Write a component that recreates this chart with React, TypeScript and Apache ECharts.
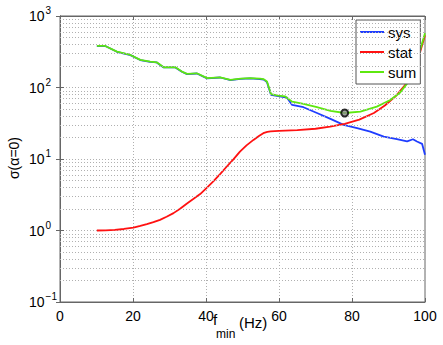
import React, { useEffect, useRef } from "react";
import * as echarts from "echarts";

const xTicks = [0, 20, 40, 60, 80, 100];
const yDecades = [0.1, 1, 10, 100, 1000];

const sumX = [10.1, 12.4, 15.6, 19.3, 22.0, 24.7, 26.5, 28.4, 31.6, 33.4, 34.8, 37.5, 40.3, 43.9, 46.7, 49.5, 52.1, 54.8, 55.8, 56.7, 57.8, 59.8, 61.7, 63.6, 66.7, 70.4, 74.1, 78.0, 82.3, 86.8, 90.5, 93.2, 95.5, 97.6, 100];
const sumY = [381, 381, 317, 285, 243, 230, 225, 192, 192, 167, 155, 158, 135, 139, 128, 133, 135, 133, 131, 121, 81, 77, 75, 63.5, 59, 53, 47, 44, 46, 54, 67, 85, 121, 218, 573];

const sysX = [10.1, 12.4, 15.6, 19.3, 22.0, 24.7, 26.5, 28.4, 31.6, 33.4, 34.8, 37.5, 40.3, 43.9, 46.7, 49.5, 52.1, 54.8, 55.8, 56.7, 57.8, 59.8, 62.2, 63.6, 66.7, 70.4, 74.1, 77.7, 81.4, 85.0, 88.7, 92.3, 95.1, 96.7, 97.8, 99.2, 100];
const sysY = [380, 380, 316, 284, 242, 229, 224, 191, 191, 166, 154, 157, 134, 138, 127, 132, 134, 131, 129, 119, 79, 76, 72, 57, 53, 44, 36.4, 30, 27, 24.2, 20.6, 19, 17.6, 18.9, 17.6, 16.3, 11.5];

const statX = [10.1, 12.5, 15, 17.5, 20.1, 22, 23.8, 25.6, 27.4, 29.2, 31.1, 32.9, 34.7, 36.5, 38.4, 40.2, 42, 43.8, 45.7, 47.5, 49.3, 51.1, 53, 54.5, 55.7, 56.8, 57.7, 60, 65, 70, 74, 78, 82, 86, 89, 92, 95, 97.6, 100];
const statY = [1.0, 1.005, 1.02, 1.05, 1.1, 1.16, 1.23, 1.31, 1.41, 1.56, 1.75, 2.02, 2.37, 2.75, 3.23, 3.95, 4.85, 6.1, 7.85, 9.9, 12.7, 15.5, 18.5, 21, 23, 24, 24.4, 24.7, 25.4, 26.5, 28.3, 31, 35.5, 44, 56, 76, 115, 205, 540];

const optimum = [78, 44];

const seriesNames = ["sys", "stat", "sum"];
const seriesColors = ["#1f3dff", "#ff1111", "#5ee80f"];

function zip(xs: number[], ys: number[]) {
  return xs.map((x, i) => [x, ys[i]]);
}

export default function App() {
  const ref = useRef<HTMLDivElement>(null);
  useEffect(() => {
    if (!ref.current) return;
    const chart = echarts.init(ref.current, undefined, { renderer: "svg" });
    const minorVals: number[] = [];
    yDecades.slice(0, -1).forEach((d) => {
      for (let m = 2; m <= 9; m++) minorVals.push(+(d * m).toPrecision(3));
    });
    const grid = "#b0b0b0";
    const font = "Liberation Sans";
    const supFmt = (v: number) => {
      const e = Math.round(Math.log10(v));
      return "{b|10}{s|" + (e < 0 ? "\u2212" + -e : String(e)) + "}";
    };
    chart.setOption({
      animation: false,
      backgroundColor: "#fff",
      textStyle: { fontFamily: font },
      grid: { left: 60, right: 18, top: 16, bottom: 43, show: true, borderColor: "#666", borderWidth: 1 },
      legend: {
        data: seriesNames,
        orient: "vertical",
        left: 356,
        top: 20,
        padding: [4, 4, 4, 4],
        itemGap: 4,
        itemWidth: 24,
        itemHeight: 2,
        icon: "rect",
        borderColor: "#555",
        borderWidth: 1,
        backgroundColor: "#fff",
        textStyle: { fontSize: 15, color: "#000", fontFamily: font, lineHeight: 16, padding: [0, 0, 0, -1] },
      },
      xAxis: [
        {
          type: "value",
          min: 0,
          max: 100,
          interval: 20,
          axisLine: { lineStyle: { color: "#666" } },
          axisTick: { inside: true, length: 4, lineStyle: { color: "#666" } },
          axisLabel: { color: "#000", fontSize: 14, fontFamily: font, margin: 7, formatter: (v: number) => (xTicks.includes(v) ? String(v) : "") },
          splitLine: { show: true, lineStyle: { type: [1, 2], color: grid } },
        },
        {
          type: "value",
          position: "top",
          min: 0,
          max: 100,
          interval: 20,
          axisLine: { lineStyle: { color: "#666" } },
          axisTick: { inside: true, length: 4, lineStyle: { color: "#666" } },
          axisLabel: { show: false },
          splitLine: { show: false },
        },
      ],
      yAxis: [
        {
          type: "log",
          logBase: 10,
          min: 0.1,
          max: 1000,
          axisLine: { lineStyle: { color: "#666" } },
          axisTick: { inside: true, length: 4, lineStyle: { color: "#666" } },
          axisLabel: {
            color: "#000",
            align: "left",
            margin: 31,
            fontFamily: font,
            formatter: supFmt,
            rich: {
              b: { fontSize: 14, color: "#000", fontFamily: font },
              s: { fontSize: 10, color: "#000", fontFamily: font, padding: [0, 0, 11, 1] },
            },
          },
          splitLine: { show: true, lineStyle: { type: [1, 2], color: grid } },
        },
        {
          type: "log",
          logBase: 10,
          position: "right",
          min: 0.1,
          max: 1000,
          axisLine: { lineStyle: { color: "#666" } },
          axisTick: { inside: true, length: 4, lineStyle: { color: "#666" } },
          axisLabel: { show: false },
          splitLine: { show: false },
        },
      ],
      series: [
        {
          name: "sys",
          type: "line",
          data: zip(sysX, sysY),
          showSymbol: false,
          symbol: "none",
          lineStyle: { color: seriesColors[0], width: 1.8 },
          itemStyle: { color: seriesColors[0] },
          markLine: {
            silent: true,
            symbol: ["none", "none"],
            label: { show: false },
            lineStyle: { type: [1, 2], color: grid, width: 1 },
            data: minorVals.map((v) => ({ yAxis: v })),
          },
        },
        {
          name: "stat",
          type: "line",
          data: zip(statX, statY),
          showSymbol: false,
          symbol: "none",
          lineStyle: { color: seriesColors[1], width: 1.8 },
          itemStyle: { color: seriesColors[1] },
        },
        {
          name: "sum",
          type: "line",
          data: zip(sumX, sumY),
          showSymbol: false,
          symbol: "none",
          lineStyle: { color: seriesColors[2], width: 1.8 },
          itemStyle: { color: seriesColors[2] },
        },
        {
          name: "optimum",
          type: "scatter",
          data: [optimum],
          symbol: "circle",
          symbolSize: 7,
          itemStyle: { color: "#8a8a8a", borderColor: "#000", borderWidth: 2 },
          z: 5,
        },
      ],
      graphic: [
        {
          type: "text",
          x: 14,
          y: 158,
          rotation: Math.PI / 2,
          style: { text: "\u03c3(\u03b1=0)", fontSize: 14, fontFamily: font, fill: "#000", textAlign: "center", textVerticalAlign: "middle" },
        },
        {
          type: "text",
          x: 213,
          y: 312,
          style: { text: "f", fontSize: 15, fontFamily: font, fill: "#000", textAlign: "left", textVerticalAlign: "top" },
        },
        {
          type: "text",
          x: 216,
          y: 328,
          style: { text: "min", fontSize: 12, fontFamily: font, fill: "#000", textAlign: "left", textVerticalAlign: "top" },
        },
        {
          type: "text",
          x: 239,
          y: 315,
          style: { text: "(Hz)", fontSize: 15, fontFamily: font, fill: "#000", textAlign: "left", textVerticalAlign: "top" },
        },
      ],
    });
    return () => chart.dispose();
  }, []);
  return <div ref={ref} style={{ width: 443, height: 345, position: "absolute", left: 0, top: 0 }} />;
}
